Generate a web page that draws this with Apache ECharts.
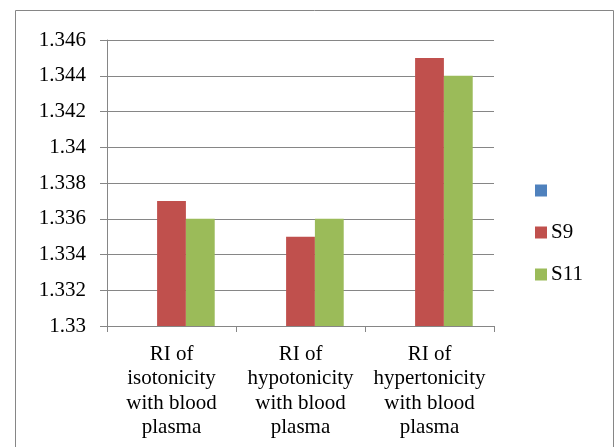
<!DOCTYPE html>
<html>
<head>
<meta charset="utf-8">
<script src="https://cdn.jsdelivr.net/npm/echarts@6/dist/echarts.min.js"></script>
<style>
html, body { margin: 0; padding: 0; background: #fff; }
#chart { width: 616px; height: 447px; }
</style>
</head>
<body>
<div id="chart"></div>
<script>
const categories = [
  'RI of\nisotonicity\nwith blood\nplasma',
  'RI of\nhypotonicity\nwith blood\nplasma',
  'RI of\nhypertonicity\nwith blood\nplasma'
]
const blankValues = ['-', '-', '-']
const s9Values = [1.337, 1.335, 1.345]
const s11Values = [1.336, 1.336, 1.344]
const yTicks = { min: 1.33, max: 1.346, step: 0.002 }

const grey = '#868686'
const font = '"Liberation Serif", "Times New Roman", serif'

let myCharts = echarts.init(document.getElementById('chart'))

myCharts.setOption({
  animation: false,
  textStyle: { fontFamily: font },
  graphic: [{
    type: 'rect',
    shape: { x: 15.5, y: 10.5, width: 598, height: 460 },
    style: { fill: 'none', stroke: grey, lineWidth: 1 }
  }],
  grid: { left: 107, top: 40, width: 387, height: 286, containLabel: false },
  legend: {
    orient: 'vertical',
    left: 535,
    top: 180,
    padding: 0,
    itemWidth: 12,
    itemHeight: 12,
    itemGap: 21,
    icon: 'rect',
    textStyle: { fontFamily: font, fontSize: 21, color: '#000', padding: [0, 0, 0, -1] },
    data: [' ', 'S9', 'S11']
  },
  xAxis: {
    type: 'category',
    data: categories,
    axisLine: { lineStyle: { color: grey } },
    axisTick: { show: true, length: 6, lineStyle: { color: grey } },
    axisLabel: { color: '#000', fontFamily: font, fontSize: 21, lineHeight: 24.5, margin: 16, interval: 0 }
  },
  yAxis: {
    type: 'value',
    min: yTicks.min,
    max: yTicks.max,
    interval: yTicks.step,
    axisLine: { show: true, lineStyle: { color: grey } },
    axisTick: { show: true, length: 7, lineStyle: { color: grey } },
    splitLine: { lineStyle: { color: grey } },
    axisLabel: {
      color: '#000', fontFamily: font, fontSize: 21, margin: 21,
      formatter: v => String(parseFloat(v.toFixed(3)))
    }
  },
  series: [
    { name: ' ', type: 'bar', data: blankValues, itemStyle: { color: '#4F81BD' }, barGap: '0%', barCategoryGap: '33%' },
    { name: 'S9', type: 'bar', data: s9Values, itemStyle: { color: '#C0504D' }, barGap: '0%', barCategoryGap: '33%' },
    { name: 'S11', type: 'bar', data: s11Values, itemStyle: { color: '#9BBB59' }, barGap: '0%', barCategoryGap: '33%' }
  ]
})
</script>
</body>
</html>
